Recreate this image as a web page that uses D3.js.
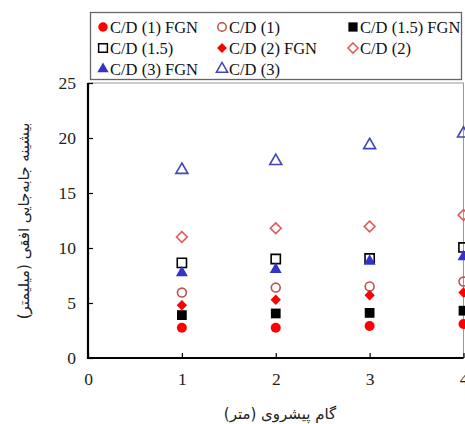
<!DOCTYPE html>
<html><head><meta charset="utf-8">
<script src="https://cdn.jsdelivr.net/npm/d3@7"></script>
<style>body{margin:0;background:#fff}svg{display:block}</style>
</head><body>
<svg id="c" width="465" height="424"></svg>
<script>
const steps = [1, 2, 3, 4];
const cd1FGN  = [2.75, 2.75, 2.9, 3.1];
const cd1     = [5.95, 6.4, 6.5, 6.95];
const cd15FGN = [3.9, 4.05, 4.1, 4.3];
const cd15    = [8.65, 9.0, 9.05, 10.05];
const cd2FGN  = [4.8, 5.3, 5.7, 5.95];
const cd2     = [11.0, 11.8, 11.95, 13.0];
const cd3FGN  = [7.75, 8.05, 8.8, 9.2];
const cd3     = [17.1, 17.9, 19.35, 20.4];
const seriesNames = ["C/D (1) FGN","C/D (1)","C/D (1.5) FGN","C/D (1.5)","C/D (2) FGN","C/D (2)","C/D (3) FGN","C/D (3)"];
const xTicks = [0, 1, 2, 3, 4];
const yTicks = [0, 5, 10, 15, 20, 25];
const xTitle = "گام پیشروی (متر)";
const yTitle = "بیشینه جابه‌جایی افقی (میلیمتر)";

const series = [
  {name: seriesNames[0], v: cd1FGN,  shape: "circle",   fill: "#ff0000", stroke: "none"},
  {name: seriesNames[1], v: cd1,     shape: "circle",   fill: "none",    stroke: "#c0504d"},
  {name: seriesNames[2], v: cd15FGN, shape: "square",   fill: "#000000", stroke: "none"},
  {name: seriesNames[3], v: cd15,    shape: "square",   fill: "none",    stroke: "#000000"},
  {name: seriesNames[4], v: cd2FGN,  shape: "diamond",  fill: "#ff0000", stroke: "none"},
  {name: seriesNames[5], v: cd2,     shape: "diamond",  fill: "none",    stroke: "#e05a5a"},
  {name: seriesNames[6], v: cd3FGN,  shape: "triangle", fill: "#3333cc", stroke: "none"},
  {name: seriesNames[7], v: cd3,     shape: "triangle", fill: "none",    stroke: "#4444bb"}
];

const svg = d3.select("#c");
const L = 88, R = 463.5, T = 83, B = 358;
const x = d3.scaleLinear().domain([0, 4]).range([L, R]);
const y = d3.scaleLinear().domain([0, 25]).range([B, T]);

const symSize = {circle: 78, square: 95, diamond: 70, triangle: 62};
const openSize = {circle: 62, square: 85, diamond: 75, triangle: 62};
const symType = {circle: d3.symbolCircle, square: d3.symbolSquare, diamond: d3.symbolDiamond, triangle: d3.symbolTriangle};
function symPath(s, big) {
  const open = s.fill === "none";
  let size = open ? openSize[s.shape] : symSize[s.shape];
  if (!big) size *= 0.9;
  if (s.shape === "diamond") {
    const r = Math.sqrt(size) * 0.62;
    return `M0,${-r}L${r},0L0,${r}L${-r},0Z`;
  }
  return d3.symbol().type(symType[s.shape]).size(size)();
}

// plot border (thin gray)
svg.append("rect").attr("x", L).attr("y", T).attr("width", R - L).attr("height", B - T)
  .attr("fill", "none").attr("stroke", "#9a9a9a").attr("stroke-width", 1);

// axes
const yAxis = d3.axisLeft(y).tickValues(yTicks).tickSize(-5).tickPadding(12).tickFormat(d3.format("d"));
const gy = svg.append("g").attr("transform", `translate(${L},0)`).call(yAxis);
gy.select(".domain").remove();
gy.selectAll(".tick line").attr("stroke", "#000").attr("stroke-width", 1.2);
gy.selectAll(".tick text").attr("font-family", "Liberation Serif").attr("font-size", 17.5).attr("fill", "#222");

const xAxis = d3.axisBottom(x).tickValues(xTicks).tickSize(-5).tickPadding(15).tickFormat(d3.format("d"));
const gx = svg.append("g").attr("transform", `translate(0,${B})`).call(xAxis);
gx.select(".domain").remove();
gx.selectAll(".tick line").attr("stroke", "#000").attr("stroke-width", 1.2);
gx.selectAll(".tick text").attr("font-family", "Liberation Serif").attr("font-size", 17.5).attr("fill", "#222");

svg.append("line").attr("x1", L).attr("x2", L).attr("y1", T).attr("y2", B + 1).attr("stroke", "#000").attr("stroke-width", 2.2);
svg.append("line").attr("x1", L - 1).attr("x2", R).attr("y1", B).attr("y2", B).attr("stroke", "#000").attr("stroke-width", 2.2);

// data points
series.forEach(s => {
  svg.append("g").selectAll("path").data(steps.map((st, i) => [st, s.v[i]])).join("path")
    .attr("transform", d => `translate(${x(d[0])},${y(d[1])})`)
    .attr("d", symPath(s, true))
    .attr("fill", s.fill).attr("stroke", s.stroke).attr("stroke-width", s.fill === "none" ? 1.6 : 0);
});

// legend
const lg = svg.append("g");
lg.append("rect").attr("x", 90.5).attr("y", 12.5).attr("width", 371).attr("height", 67)
  .attr("fill", "#fff").attr("stroke", "#666").attr("stroke-width", 1.3);
const colX = [103, 222, 353];
const rowY = [27, 48, 69];
series.forEach((s, i) => {
  const cx = colX[i % 3], cy = rowY[Math.floor(i / 3)];
  lg.append("path").attr("transform", `translate(${cx},${cy})`).attr("d", symPath(s, false))
    .attr("fill", s.fill).attr("stroke", s.stroke).attr("stroke-width", s.fill === "none" ? 1.5 : 0);
  lg.append("text").attr("x", cx + 7).attr("y", cy).attr("dy", "0.35em")
    .attr("font-family", "Liberation Serif").attr("font-size", 16.5).attr("fill", "#111").text(s.name);
});

// axis titles
svg.append("text").attr("x", 280).attr("y", 414).attr("text-anchor", "middle").attr("dy", "0.35em")
  .attr("font-family", "DejaVu Sans").attr("font-size", 15).attr("direction", "rtl").attr("fill", "#222").text(xTitle);
svg.append("text").attr("transform", `translate(24,221) rotate(-90)`).attr("text-anchor", "middle").attr("dy", "0.35em")
  .attr("font-family", "DejaVu Sans").attr("font-size", 15).attr("direction", "rtl").attr("fill", "#222").text(yTitle);
</script>
</body></html>
